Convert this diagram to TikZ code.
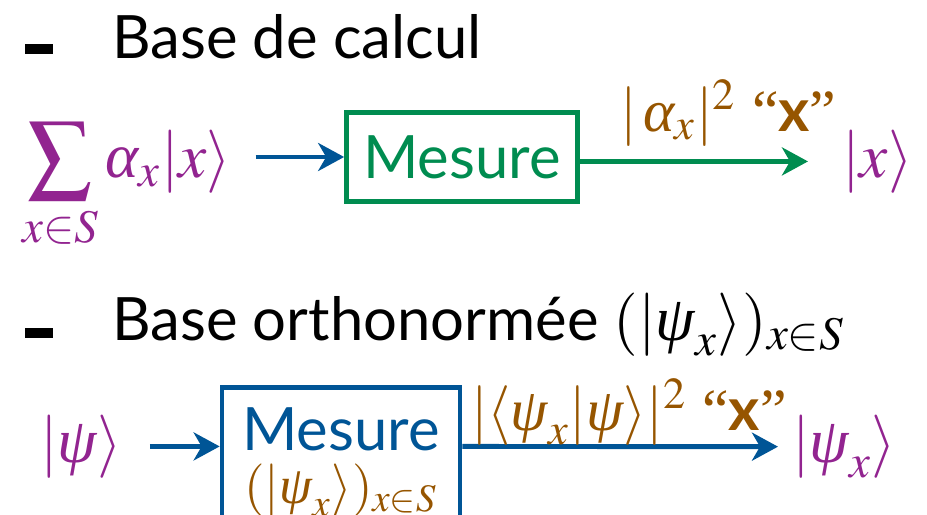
\documentclass[tikz,border=0pt]{standalone}
\usepackage{mathptmx}
\usepackage[no-math]{fontspec}
\setmainfont{Lato}
\newfontfamily\guillfont{Liberation Serif}
\usepackage{xcolor}
\usetikzlibrary{arrows.meta}
\definecolor{mauve}{RGB}{146,36,144}
\definecolor{vert}{RGB}{0,140,80}
\definecolor{bleu}{RGB}{0,85,150}
\definecolor{brun}{RGB}{150,85,0}
\newcommand{\guill}[1]{{\guillfont “}\textbf{#1}{\guillfont ”}}
\newcommand{\galpha}{\mbox{\guillfont\itshape α}}
\newcommand{\gpsi}{\mbox{\guillfont\itshape ψ}}

\begin{document}
\begin{tikzpicture}[x=0.01cm,y=-0.01cm,
                    every node/.style={font=\fontsize{18}{21}\selectfont,inner sep=1pt},
                    titre/.style={anchor=base west,font=\fontsize{17}{20}\selectfont},
                    proba/.style={anchor=base west,text=brun,font=\fontsize{17}{20}\selectfont},
                    puce/.style={fill=black,minimum width=2.7mm,minimum height=1.0mm,inner sep=0pt},
                    boite/.style={draw,line width=1.3pt,inner sep=0pt,font=\fontsize{17}{20}\selectfont},
                    fleche/.style={line width=1.4pt,-{Stealth[length=2.6mm,width=2.8mm,inset=0.8mm]}}]
  \useasboundingbox (0,0) rectangle (927,515);
  \clip (0,0) rectangle (927,515);
  \foreach \py/\nm in {49/A,333/B} {
    \node[puce] (puce\nm) at (39,\py) {};
  }
  % base de calcul
  \node[titre] (titreA) at (108,58) {Base de calcul};
  \node[anchor=base west,text=mauve] (somme) at (18,177) {$\displaystyle\sum_{x\in S}\galpha_x|x\rangle$};
  \node[boite,draw=vert,text=vert,minimum width=2.31cm,minimum height=0.89cm] (mesureA) at (462,157) {Mesure};
  \node[anchor=base west,text=mauve] (ketA) at (838,177) {$|x\rangle$};
  \draw[fleche,bleu,shorten <=2mm] (somme.east |- mesureA.west) -- (mesureA.west);
  \draw[fleche,vert,shorten >=3mm] (mesureA.east |- ketA.west) -- (ketA.west);
  \node[proba] (probaA) at (616,131) {$|\,\galpha_x|^2$\ \guill{x}};
  % base orthonormee
  \node[titre] (titreB) at (108,340) {Base orthonormée {\fontsize{18}{21}\selectfont$(|\gpsi_x\rangle)_{x\in S}$}};
  \node[anchor=base west,text=mauve] (ketPsi) at (36,462) {$|\gpsi\rangle$};
  \node[boite,draw=bleu,text=bleu,minimum width=2.38cm,minimum height=1.5cm,align=center,anchor=north]
    (mesureB) at (341,385) {Mesure\\[-5pt]{\color{brun}\fontsize{15}{17}\selectfont$(|\gpsi_x\rangle)_{x\in S}$}};
  \node[anchor=base west,text=mauve] (ketPsiX) at (788,462) {$|\gpsi_x\rangle$};
  \draw[fleche,bleu,shorten <=2.4mm] (ketPsi.east) -- (ketPsi.east -| mesureB.west);
  \draw[fleche,bleu,shorten >=1mm] (ketPsi.east -| mesureB.east) -- (ketPsiX.west);
  \node[proba] (probaB) at (467,430) {$|\langle\gpsi_x|\gpsi\rangle|^2$\ \guill{x}};
\end{tikzpicture}
\end{document}
